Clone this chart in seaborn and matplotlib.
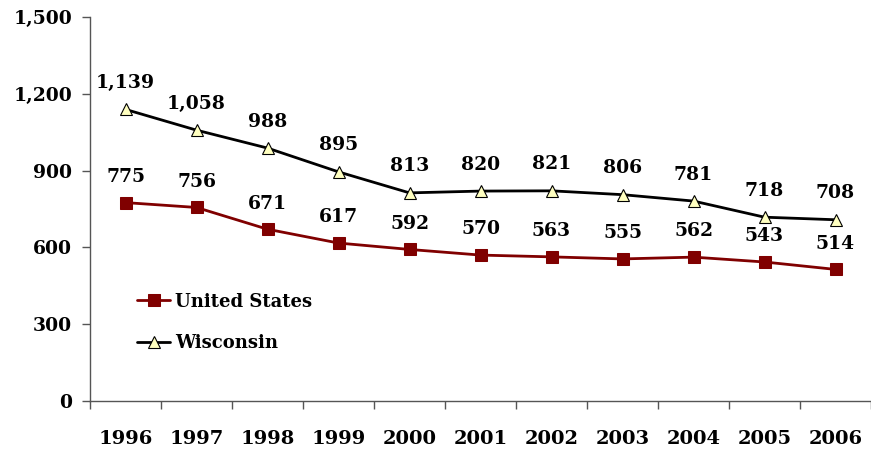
import matplotlib
matplotlib.use('Agg')
import matplotlib.pyplot as plt
import seaborn as sns
import pandas as pd

# data
years = ['1996', '1997', '1998', '1999', '2000', '2001', '2002', '2003', '2004', '2005', '2006']
us = [775, 756, 671, 617, 592, 570, 563, 555, 562, 543, 514]
wisconsin = [1139, 1058, 988, 895, 813, 820, 821, 806, 781, 718, 708]

sns.set_style('white')
plt.rcParams['font.family'] = ['DejaVu Serif']
plt.rcParams['font.weight'] = 'bold'
plt.rcParams['text.color'] = 'black'
plt.rcParams['xtick.color'] = 'black'
plt.rcParams['ytick.color'] = 'black'

df = pd.DataFrame({'x': list(range(len(years))) * 2,
                   'value': us + wisconsin,
                   'series': ['United States'] * len(years) + ['Wisconsin'] * len(years)})

fig = plt.figure(figsize=(8.71, 4.49), dpi=100)
ax = fig.add_axes([90 / 871, 48 / 449, 781 / 871, 384 / 449])

sns.lineplot(data=df, x='x', y='value', hue='series', style='series',
             palette={'United States': '#800000', 'Wisconsin': '#000000'},
             markers={'United States': 's', 'Wisconsin': '^'}, dashes=False,
             markersize=8, linewidth=2, ax=ax)

# marker colours
for l in ax.lines:
    c = matplotlib.colors.to_hex(l.get_color())
    if c == '#000000':
        l.set_markerfacecolor('#FFFFC0')
        l.set_markeredgecolor('#000000')
        l.set_markeredgewidth(0.8)
    else:
        l.set_markerfacecolor('#800000')
        l.set_markeredgecolor('#800000')

for i in range(len(years)):
    ax.text(i, us[i] + 65, f'{us[i]:,}', ha='center', va='bottom', fontsize=13.5, fontweight='bold')
    ax.text(i, wisconsin[i] + 68, f'{wisconsin[i]:,}', ha='center', va='bottom', fontsize=13.5, fontweight='bold')

ax.set_xlim(-0.5, 10.44)
ax.set_ylim(0, 1500)
ax.set_yticks(range(0, 1501, 300))
ax.set_yticklabels([f'{v:,}' for v in range(0, 1501, 300)], fontsize=13.5, fontweight='bold')
ax.set_xticks(range(len(years)))
ax.set_xticklabels(years, fontsize=14, fontweight='bold')
ax.set_xticks([i + 0.5 for i in range(-1, len(years))], minor=True)
ax.tick_params(axis='x', which='major', bottom=False, length=0, pad=21, labelcolor='black')
ax.tick_params(axis='x', which='minor', bottom=True, length=6, width=1, direction='out', color='#555555')
ax.tick_params(axis='y', left=True, length=6, width=1, direction='out', color='#555555', pad=7, labelcolor='black')
ax.set_xlabel('')
ax.set_ylabel('')

for s in ['top', 'right']:
    ax.spines[s].set_visible(False)
for s in ['left', 'bottom']:
    ax.spines[s].set_color('#555555')
    ax.spines[s].set_linewidth(1)

leg = ax.legend(loc='lower left', bbox_to_anchor=(0.04, 0.085), frameon=False,
                prop={'size': 13, 'weight': 'bold'}, handlelength=1.8, labelspacing=1.3,
                handletextpad=0.3)

fig.savefig('out.png', dpi=100)
